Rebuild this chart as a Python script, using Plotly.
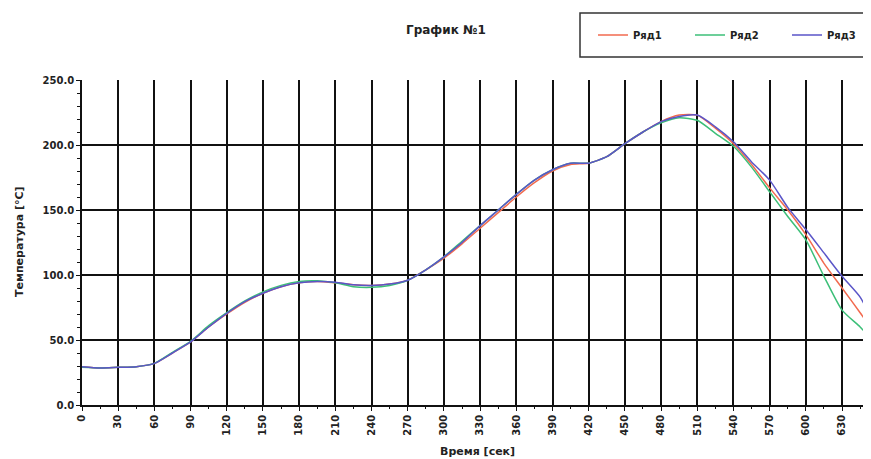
import plotly.graph_objects as go

time_s = [0, 15, 30, 45, 60, 75, 90, 105, 120, 135, 150, 165, 180, 195, 210, 225, 240, 255,
          270, 285, 300, 315, 330, 345, 360, 375, 390, 405, 420, 435, 450, 465, 480, 495,
          510, 525, 540, 555, 570, 585, 600, 615, 630, 645, 654]

row1 = [29.5, 28.5, 29, 29.5, 32, 40, 48.5, 60, 70, 79, 86, 91, 94, 95, 94, 92.5, 92, 93,
        96, 104, 113, 124, 136, 148, 160, 171, 180, 185, 186, 191, 201, 210, 218, 223,
        223, 213, 201, 185, 167, 150, 131, 109, 90, 71, 59]

row2 = [29, 28.5, 29, 29.5, 32, 40.5, 49, 61, 71, 80, 87, 92, 95, 95.5, 94, 91, 90.5, 92,
        96, 104, 114, 126, 138, 150, 162, 173, 181, 186, 186, 191, 201, 210, 217, 221,
        219, 209, 199, 183, 164, 145, 127, 99, 73, 60, 51]

row3 = [29.5, 28.5, 29, 29.5, 32, 40, 48.5, 60, 70.5, 79.5, 86, 91, 94, 95, 94.5, 92.5, 92, 93,
        96, 104, 114, 125, 138, 150, 162, 173, 181, 186, 186, 191, 201, 210, 218, 222,
        223, 214, 202.5, 187, 173, 152, 135, 117, 99, 83, 67]

names = ["Ряд1", "Ряд2", "Ряд3"]
colors = ["#f26a4f", "#3cbf78", "#5a55c8"]
x_ticks = list(range(0, 631, 30))
y_ticks = [0, 50, 100, 150, 200, 250]

FONT = "DejaVu Sans"
OFF = 8  # page body margin
W, H = 871 - OFF, 459 - OFF
# plot area in page pixels: x 82..871, y 80..405
PX0, PX1, PY0, PY1 = 82, 871, 80, 405
L, R, T, B = PX0 - OFF, 0, PY0 - OFF, H - (PY1 - OFF)
PW, PH = PX1 - PX0, PY1 - PY0


def px(x):
    return (x - PX0) / PW


def py(y):
    return (PY1 - y) / PH


fig = go.Figure()
for name, vals, col in zip(names, [row1, row2, row3], colors):
    fig.add_trace(go.Scatter(x=time_s, y=vals, name=name, mode="lines",
                             line=dict(color=col, width=1.5, shape="spline", smoothing=0.6)))

tickfont = dict(family=FONT, size=10, color="#222", weight="bold")

fig.update_layout(
    width=W, height=H,
    margin=dict(l=L, r=R, t=T, b=B, autoexpand=False),
    paper_bgcolor="white", plot_bgcolor="white",
    font=dict(family=FONT, size=10, color="#222"),
    showlegend=True,
    legend=dict(orientation="h", xref="container", yref="container",
                x=(593 - OFF) / W, y=1 - (35 - OFF) / H, xanchor="left", yanchor="middle",
                bgcolor="rgba(0,0,0,0)", borderwidth=0, entrywidth=52,
                entrywidthmode="pixels", itemwidth=30,
                font=dict(family=FONT, size=10, color="#222", weight="bold")),
    xaxis=dict(range=[0, 654], tickmode="array", tickvals=x_ticks,
               ticktext=[str(v) for v in x_ticks], tickangle=-90, automargin=False,
               showgrid=True, gridcolor="#111", gridwidth=1.8,
               showline=True, linecolor="#111", linewidth=1.5,
               ticks="outside", ticklen=4, tickcolor="#111", zeroline=False,
               tickfont=tickfont,
               minor=dict(dtick=15, tick0=0, ticks="outside", ticklen=2, tickcolor="#111",
                          showgrid=False)),
    yaxis=dict(range=[0, 250], tickmode="array", tickvals=y_ticks,
               ticktext=[f"{v:.1f}" for v in y_ticks], automargin=False,
               showgrid=True, gridcolor="#111", gridwidth=1.8,
               showline=True, linecolor="#111", linewidth=1.5,
               ticks="outside", ticklen=4, tickcolor="#111", zeroline=False,
               tickfont=tickfont,
               minor=dict(dtick=10, tick0=0, ticks="outside", ticklen=3, tickcolor="#111",
                          showgrid=False)),
    shapes=[dict(type="rect", xref="paper", yref="paper",
                 x0=px(580), x1=px(885), y0=py(57), y1=py(13),
                 line=dict(color="#333", width=1.5), fillcolor="rgba(0,0,0,0)")],
    annotations=[
        dict(text="<b>График №1</b>", xref="paper", yref="paper", x=px(446),
             y=py(30), showarrow=False, xanchor="center", yanchor="middle",
             font=dict(family=FONT, size=12, color="#222")),
        dict(text="<b>Температура [°C]</b>", xref="paper", yref="paper",
             x=px(19), y=py(242), showarrow=False, textangle=-90,
             xanchor="center", yanchor="middle",
             font=dict(family=FONT, size=11, color="#222")),
        dict(text="<b>Время [сек]</b>", xref="paper", yref="paper",
             x=px(478), y=py(451), showarrow=False,
             xanchor="center", yanchor="middle",
             font=dict(family=FONT, size=11, color="#222")),
    ],
)

fig.write_html("out.html")
